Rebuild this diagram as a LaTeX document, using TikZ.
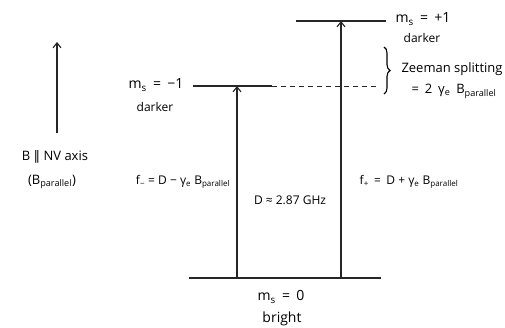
\documentclass[tikz,border=0pt]{standalone}
\usepackage{fontspec}
\setmainfont{Open Sans}
\newfontfamily\symfont{DejaVu Sans}
\usetikzlibrary{arrows.meta,decorations.pathreplacing}
\newcommand{\sbs}[1]{\textsubscript{#1}}
\newcommand{\wsp}{\hspace{0.45em}}
\begin{document}
\begin{tikzpicture}[x=1pt,y=-1pt,
  level/.style={line width=1.3pt,draw=black!85},
  trans/.style={line width=1.1pt,draw=black!85,-{Straight Barb[length=5pt,width=8pt,line width=1.1pt]}},
  lbl/.style={font=\fontsize{12}{14}\selectfont,inner sep=0pt},
  mid/.style={font=\fontsize{13}{15}\selectfont,inner sep=0pt},
  big/.style={font=\fontsize{14}{16}\selectfont,inner sep=0pt}]
\useasboundingbox (0,0) rectangle (505,328);
\fill[white] (0,0) rectangle (505,328);
% level coordinates
\coordinate (g0) at (189,278);
\coordinate (g1) at (381,278);
\coordinate (m0) at (193,86);
\coordinate (m1) at (272,86);
\coordinate (d1) at (378,86);
\coordinate (p0) at (296,21);
\coordinate (p1) at (386,21);
% arrow ends
\coordinate (fmB) at (237,278);
\coordinate (fmT) at (237,86);
\coordinate (fpB) at (341,278);
\coordinate (fpT) at (341,21);
\coordinate (bB) at (57,133);
\coordinate (bT) at (57,42);
\coordinate (brT) at (384,47);
\coordinate (brB) at (384,94);
% levels
\draw[level] (g0) -- (g1);
\draw[level] (m0) -- (m1);
\draw[line width=0.9pt,dashed,dash pattern=on 5pt off 4pt,draw=black!85] (m1) -- (d1);
\draw[level] (p0) -- (p1);
% transitions
\draw[trans] (fmB) -- (fmT);
\draw[trans] (fpB) -- (fpT);
\draw[trans] (bB) -- (bT);
% brace
\draw[line width=1.1pt,decorate,decoration={brace,amplitude=6pt}] (brT) -- (brB);
% labels
\node[big] (lm1) at (156,85) {m\sbs{s}\wsp=\wsp−1};
\node[lbl] (dm1) at (155,107) {darker};
\node[big] (lp1) at (423,19) {m\sbs{s}\wsp=\wsp+1};
\node[lbl] (dp1) at (422,38) {darker};
\node[big] (l0) at (281,297) {m\sbs{s}\wsp=\wsp0};
\node[big] (b0) at (282,319) {bright};
\node[mid] (zs) at (452,69) {Zeeman splitting};
\node[mid] (zf) at (454,91) {=\wsp2\wsp γ\sbs{e}\wsp B\sbs{parallel}};
\node[mid] (bax) at (55,157) {B {\symfont ∥} NV axis};
\node[mid] (bpar) at (52,182) {(B\sbs{parallel})};
\node[lbl] (fm) at (183,182) {f\sbs{−} = D − γ\sbs{e} B\sbs{parallel}};
\node[lbl] (fp) at (409,182) {f\sbs{+}\wsp=\wsp D + γ\sbs{e} B\sbs{parallel}};
\node[lbl] (dd) at (290,200) {D ≈ 2.87 GHz};
\end{tikzpicture}
\end{document}
